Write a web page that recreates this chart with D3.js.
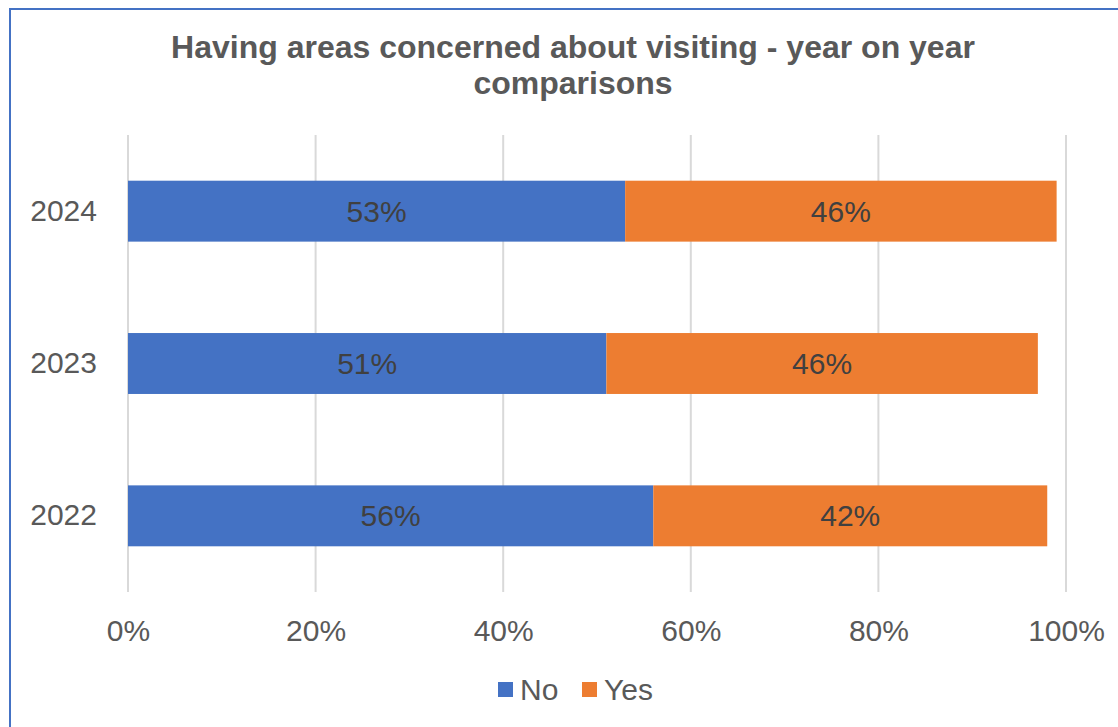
<!DOCTYPE html>
<html>
<head>
<meta charset="utf-8">
<script src="https://cdn.jsdelivr.net/npm/d3@7"></script>
<style>
  html, body { margin: 0; padding: 0; background: #fff; }
  svg { display: block; font-family: "Liberation Sans", Arial, sans-serif; }
</style>
</head>
<body>
<svg id="chart" width="1118" height="727"></svg>
<script>
// Survey responses by year (percent of respondents)
const years = ["2024", "2023", "2022"];
const noValues = [53, 51, 56];
const yesValues = [46, 46, 42];
const seriesNames = ["No", "Yes"];
const seriesColors = ["#4472C4", "#ED7D31"];
const xTicks = [0, 20, 40, 60, 80, 100];
const titleLines = ["Having areas concerned about visiting - year on year", "comparisons"];

const svg = d3.select("#chart");
const W = 1118, H = 727;
const labelSize = 30;

// outer frame
svg.append("rect")
  .attr("x", 10).attr("y", 9).attr("width", W + 20).attr("height", H + 20)
  .attr("fill", "#fff").attr("stroke", "#4472C4").attr("stroke-width", 2);

const margin = { left: 128, right: 52, top: 135, bottom: 135 };
const plotW = W - margin.left - margin.right;
const plotH = 592 - margin.top;

const x = d3.scaleLinear().domain([0, 100]).range([margin.left, margin.left + plotW]);
const y = d3.scaleBand().domain(years).range([margin.top, margin.top + plotH]).paddingInner(0.6).paddingOuter(0.3);

// title
svg.append("g").selectAll("text").data(titleLines).join("text")
  .attr("x", 573).attr("y", (d, i) => 58 + i * 36)
  .attr("text-anchor", "middle")
  .attr("font-size", 32).attr("font-weight", "bold").attr("fill", "#595959")
  .text(d => d);

// vertical gridlines
svg.append("g").selectAll("line").data(xTicks).join("line")
  .attr("x1", d => x(d)).attr("x2", d => x(d))
  .attr("y1", margin.top).attr("y2", margin.top + plotH)
  .attr("stroke", "#D9D9D9").attr("stroke-width", 2);

// x axis labels
const xAxis = d3.axisBottom(x).tickValues(xTicks).tickFormat(d => d + "%").tickSize(0).tickPadding(0);
const gx = svg.append("g").attr("transform", `translate(0, 641)`).call(xAxis);
gx.select(".domain").remove();
gx.selectAll("text").attr("font-size", labelSize).attr("fill", "#595959")
  .attr("font-family", "Liberation Sans, Arial, sans-serif").attr("dy", 0).attr("y", 0);

// y axis labels
const yAxis = d3.axisLeft(y).tickSize(0).tickPadding(0);
const gy = svg.append("g").attr("transform", `translate(97, 0)`).call(yAxis);
gy.select(".domain").remove();
gy.selectAll("text").attr("font-size", labelSize).attr("fill", "#595959")
  .attr("font-family", "Liberation Sans, Arial, sans-serif");

// stacked bars
const rows = years.map((yr, i) => ({ year: yr, No: noValues[i], Yes: yesValues[i] }));
const stack = d3.stack().keys(seriesNames)(rows);
const color = d3.scaleOrdinal().domain(seriesNames).range(seriesColors);

const layers = svg.append("g").selectAll("g").data(stack).join("g")
  .attr("fill", d => color(d.key));

layers.selectAll("rect").data(d => d).join("rect")
  .attr("x", d => x(d[0]))
  .attr("width", d => x(d[1]) - x(d[0]))
  .attr("y", d => y(d.data.year))
  .attr("height", y.bandwidth());

layers.selectAll("text").data(d => d.map(v => ({ v, key: d.key }))).join("text")
  .attr("x", d => (x(d.v[0]) + x(d.v[1])) / 2)
  .attr("y", d => y(d.v.data.year) + y.bandwidth() / 2)
  .attr("dy", "0.35em")
  .attr("text-anchor", "middle")
  .attr("font-size", labelSize).attr("fill", "#404040")
  .text(d => d.v.data[d.key] + "%");

// legend
const legend = svg.append("g").attr("transform", "translate(498, 700)");
const items = [{ name: "No", dx: 0 }, { name: "Yes", dx: 84 }];
items.forEach((it, i) => {
  const g = legend.append("g").attr("transform", `translate(${it.dx}, 0)`);
  g.append("rect").attr("x", 0).attr("y", -18).attr("width", 15).attr("height", 15).attr("fill", seriesColors[i]);
  g.append("text").attr("x", 22).attr("y", 0)
    .attr("font-size", labelSize).attr("fill", "#595959").text(it.name);
});
</script>
</body>
</html>
